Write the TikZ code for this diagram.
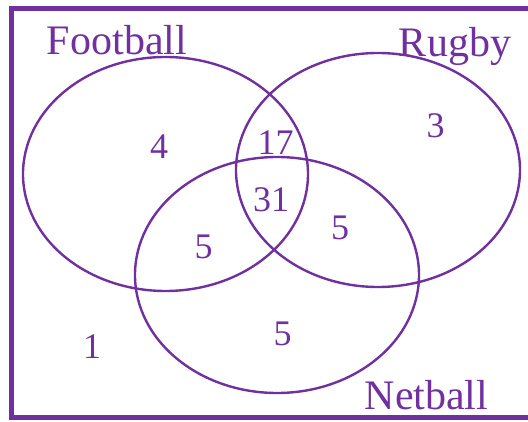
\documentclass[tikz,border=0pt]{standalone}
\usepackage{fontspec}
\setmainfont{Liberation Serif}
\usepackage{tikz}
\definecolor{vennpurple}{HTML}{7030A0}

\begin{document}
\begin{tikzpicture}[x=1pt,y=1pt,
set ring/.style={draw=vennpurple,line width=2.4pt},
set label/.style={text=vennpurple,anchor=base,inner sep=0pt,font=\fontsize{42}{42}\selectfont},
count/.style={text=vennpurple,anchor=base,inner sep=0pt,font=\fontsize{36}{36}\selectfont}]
\clip (0,0) rectangle (528,421);
% frame, right side runs off the page
\draw[vennpurple,line width=5pt] (545,412.5) -- (11.5,412.5) -- (11.5,3.5) -- (545,3.5);
% the three sets
\draw[set ring] (165.5,247) ellipse [x radius=142.5,y radius=117];
\draw[set ring] (378,251) ellipse [x radius=142,y radius=117];
\draw[set ring] (277,146) ellipse [x radius=142,y radius=118];
\node[set label] (football) at (117,366) {Football};
\node[set label] (rugby) at (455,364) {Rugby};
\node[set label] (netball) at (426.5,12) {Netball};
% counts
\node[count] (fonly) at (159,262) {4};
\node[count] (fr) at (275.5,266) {17};
\node[count] (ronly) at (435.5,283) {3};
\node[count] (frn) at (271,209) {31};
\node[count] (fn) at (203.5,162) {5};
\node[count] (rn) at (340,181) {5};
\node[count] (nonly) at (282.5,76) {5};
\node[count] (none) at (92,63) {1};
\end{tikzpicture}
\end{document}
